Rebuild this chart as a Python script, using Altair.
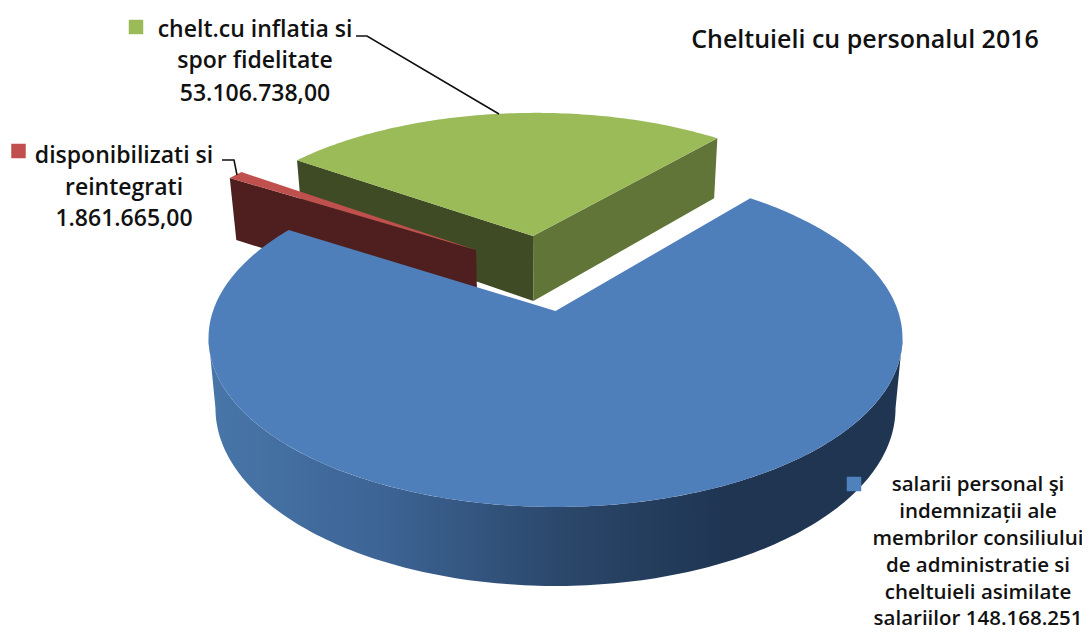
import math
import altair as alt
import pandas as pd

# ---- values ----
categories = ["salarii", "disponibilizati", "inflatie"]
values = [148168251.0, 1861665.0, 53106738.0]
start_angle = 39.7          # degrees clockwise from the back of the pie

title_text = "Cheltuieli cu personalul 2016"
label_lines = ["chelt.cu inflatia si", "spor fidelitate", "53.106.738,00",
               "disponibilizati si", "reintegrati", "1.861.665,00",
               "salarii personal şi", "indemnizații ale", "membrilor consiliului",
               "de administratie si", "cheltuieli asimilate", "salariilor 148.168.251"]

# ---- page / view geometry of the tilted pie ----
M = 8
X0, Y0, K, P, H = 555.5, 311.0, 342.5, 0.16, 164.6
OFFSET = {"inflatie": (-0.0709, -0.491), "disponibilizati": (-0.2468, -0.394), "salarii": (0.0, 0.0)}

def project(u, v):
    d = 1 - P * v
    return (X0 + K * u / d, Y0 + H * v / d)

def rim(theta, cat):
    du, dv = OFFSET[cat]
    t = math.radians(theta)
    return project(math.sin(t) + du, -math.cos(t) + dv)

def apex(cat):
    return project(*OFFSET[cat])

def drop(pt):
    x, y = pt
    return (X0 + (x - X0) * 0.98, y + 60 + (y - 140) * 0.0518)

def arc(a, b, cat, step=1.0):
    n = max(2, int(abs(b - a) / step))
    return [rim(a + (b - a) * i / n, cat) for i in range(n + 1)]

total = sum(values)
angles = {}
cur = start_angle
for c, v in zip(categories, values):
    angles[c] = (cur, cur + v / total * 360)
    cur += v / total * 360

def feature(pts, closed=True):
    coords = [[x - M, y - M] for x, y in pts]
    if closed:
        coords = coords + [coords[0]]
        geom = {"type": "Polygon", "coordinates": [coords]}
    else:
        geom = {"type": "LineString", "coordinates": coords}
    return {"type": "Feature", "properties": {}, "geometry": geom}

def shape(pts, **mark):
    return alt.Chart(alt.InlineData(values=[feature(pts)], format=alt.DataFormat(type="json"))).mark_geoshape(
        strokeWidth=0, **mark)

def leader(pts):
    return alt.Chart(alt.InlineData(values=[feature(pts, closed=False)], format=alt.DataFormat(type="json"))).mark_geoshape(
        filled=False, stroke="#111111", strokeWidth=1.6)

layers = []
GREEN, GREEN_L, GREEN_R = "#9BBB59", "#3E4B24", "#617538"
RED, RED_D = "#C0504D", "#4E1F1E"
BLUE = "#4F7FBB"

# green slice
a, b = angles["inflatie"]
ap = apex("inflatie")
left, right = rim(a, "inflatie"), rim(b, "inflatie")
layers.append(shape([ap, left, drop(left), drop(ap)], fill=GREEN_L))
layers.append(shape([ap, right, drop(right), drop(ap)], fill=GREEN_R))
layers.append(shape([ap] + arc(a, b, "inflatie"), fill=GREEN))

# red slice
a, b = angles["disponibilizati"]
ap = apex("disponibilizati")
left = rim(a, "disponibilizati")
layers.append(shape([ap, left, drop(left), drop(ap)], fill=RED_D))
layers.append(shape([ap] + arc(a, b, "disponibilizati", 0.5), fill=RED))

# blue slice: outer wall, then top
a, b = angles["salarii"]
ap = apex("salarii")
wall_top = arc(99.2, 260.8, "salarii")
wall_bot = [drop(p) for p in wall_top]
grad = alt.Gradient(gradient="linear", x1=0, x2=1, y1=0, y2=0, stops=[
    alt.GradientStop(color="#4876A9", offset=0),
    alt.GradientStop(color="#3D6495", offset=0.25),
    alt.GradientStop(color="#2A4669", offset=0.52),
    alt.GradientStop(color="#1F3552", offset=0.75),
    alt.GradientStop(color="#1F3552", offset=1),
])
layers.append(shape(wall_top + wall_bot[::-1], fill=grad))
layers.append(shape([ap] + arc(a, b, "salarii"), fill=BLUE))

# leader lines
layers.append(leader([(356, 36), (367, 36), (499, 114)]))
layers.append(leader([(222, 160), (234, 160), (237, 175)]))

# legend keys
keys = pd.DataFrame({"lon": [136 - M, 18.5 - M, 854 - M], "lat": [27 - M, 151 - M, 484 - M],
                     "col": [GREEN, RED, "#4F81BD"]})
layers.append(alt.Chart(keys).mark_square(size=210, opacity=1, strokeWidth=0).encode(
    longitude="lon:Q", latitude="lat:Q", fill=alt.Fill("col:N", scale=None)))

# labels
lx = [255, 255, 255, 124, 124, 124, 978, 978, 978, 978, 978, 978]
ly = [30, 61, 94, 156, 188, 219, 485, 512, 539, 566, 593, 619]
fs = [23, 23, 23, 23, 23, 23, 20.5, 20.5, 20.5, 20.5, 20.5, 20.5]
labels = pd.DataFrame({"lon": [x - M for x in lx], "lat": [y - M for y in ly], "t": label_lines, "fs": fs})
layers.append(alt.Chart(labels).mark_text(font="Open Sans", fontWeight=600, color="#111111", align="center", baseline="middle").encode(
    longitude="lon:Q", latitude="lat:Q", text="t:N", size=alt.Size("fs:Q", scale=None)))
layers.append(alt.Chart(pd.DataFrame({"lon": [865 - M], "lat": [40 - M], "t": [title_text]})).mark_text(
    font="Open Sans", fontWeight=600, fontSize=25, color="#111111", align="center", baseline="middle").encode(
    longitude="lon:Q", latitude="lat:Q", text="t:N"))

chart = alt.layer(*layers).project(type="identity", scale=1, translate=[0, 0], reflectY=False).properties(
    width=1074, height=623, padding=0, autosize=alt.AutoSizeParams(type="none"), background="white"
).configure_view(stroke=None)

chart.save("out.html", embed_options={"renderer": "svg", "actions": False})
